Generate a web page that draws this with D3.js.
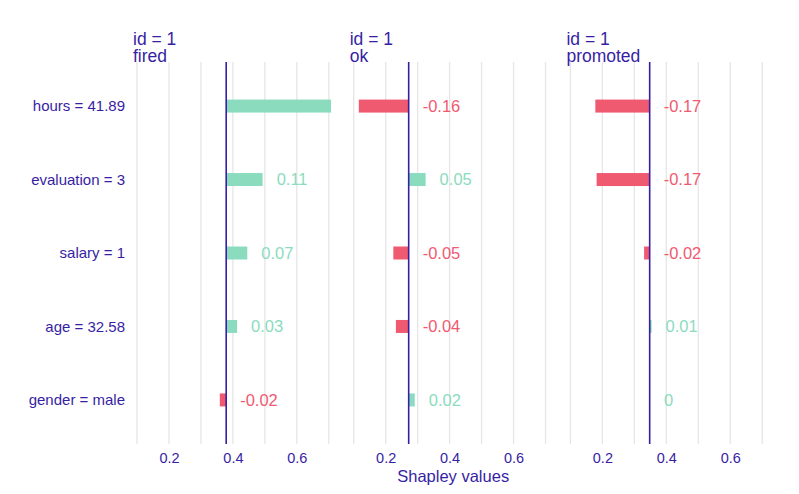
<!DOCTYPE html>
<html>
<head>
<meta charset="utf-8">
<script src="https://cdn.jsdelivr.net/npm/d3@7"></script>
<style>
  body { margin: 0; background: #fff; }
  text { font-family: "Liberation Sans", Arial, sans-serif; }
</style>
</head>
<body>
<div id="container"></div>
<script>
// shapley contributions for one observation, three classes
let features = ["hours = 41.89", "evaluation = 3", "salary = 1", "age = 32.58", "gender = male"];
let classes = ["fired", "ok", "promoted"];
let intercepts = [0.379, 0.272, 0.348];
let firedVals = [0.328, 0.114, 0.066, 0.034, -0.02];
let okVals = [-0.156, 0.053, -0.048, -0.04, 0.019];
let promotedVals = [-0.17, -0.166, -0.0175, 0.006, 0.001];
let valueLabels = [
    ["0.33", "0.11", "0.07", "0.03", "-0.02"],
    ["-0.16", "0.05", "-0.05", "-0.04", "0.02"],
    ["-0.17", "-0.17", "-0.02", "0.01", "0"]
];
let tickValues = [0.2, 0.4, 0.6];
let gridValues = [0.1, 0.2, 0.3, 0.4, 0.5, 0.6, 0.7];

let allVals = [firedVals, okVals, promotedVals];

let svgWidth = 799;
let svgHeight = 494;
let navy = "#371ea3";
let green = "#8bdcbe";
let red = "#f05a71";

let viz = d3.select("#container")
  .append("svg")
    .attr("width", svgWidth)
    .attr("height", svgHeight)
    .style("background-color", "white");

let panelW = 207, panelStep = 216.7, panelLeft = 133;
let panelTop = 62, panelBottom = 444;

let x = d3.scaleLinear().domain([0.0875, 0.735]).range([0, panelW]);
let y = d3.scalePoint().domain(features).range([panelTop, panelBottom]).padding(0.6);

// feature names on the left
viz.selectAll(".feat").data(features).enter().append("text")
    .attr("class", "feat")
    .attr("x", 125)
    .attr("y", d => y(d))
    .attr("dy", "0.35em")
    .attr("text-anchor", "end")
    .attr("font-size", 15)
    .attr("fill", navy)
    .text(d => d);

classes.forEach(function(cls, i){
    let g = viz.append("g").attr("transform", "translate(" + (panelLeft + i * panelStep) + ",0)");

    g.append("clipPath").attr("id", "clip" + i)
      .append("rect").attr("x", 0).attr("y", panelTop).attr("width", panelW).attr("height", panelBottom - panelTop);

    g.selectAll(".grid").data(gridValues).enter().append("line")
        .attr("x1", d => x(d)).attr("x2", d => x(d))
        .attr("y1", panelTop).attr("y2", panelBottom)
        .attr("stroke", "#e6e6e6")
        .attr("stroke-width", 1.3);

    let rows = features.map((f, j) => ({f: f, v: allVals[i][j], lab: valueLabels[i][j]}));
    let base = intercepts[i];

    let body = g.append("g").attr("clip-path", "url(#clip" + i + ")");

    body.selectAll("rect.bar").data(rows).enter().append("rect")
        .attr("class", "bar")
        .attr("x", d => x(Math.min(base, base + d.v)))
        .attr("width", d => Math.abs(x(base + d.v) - x(base)))
        .attr("y", d => y(d.f) - 6.5)
        .attr("height", 13)
        .attr("fill", d => d.v < 0 ? red : green);

    body.selectAll("text.val").data(rows).enter().append("text")
        .attr("class", "val")
        .attr("x", d => x(Math.max(base, base + d.v)) + 14)
        .attr("y", d => y(d.f))
        .attr("dy", "0.35em")
        .attr("font-size", 16.5)
        .attr("fill", d => d.v < 0 ? red : green)
        .text(d => d.lab);

    g.append("line")
        .attr("x1", x(base)).attr("x2", x(base))
        .attr("y1", panelTop).attr("y2", panelBottom)
        .attr("stroke", navy)
        .attr("stroke-width", 1.6);

    let axis = d3.axisBottom(x).tickValues(tickValues).tickFormat(d3.format(".1f")).tickSize(0).tickPadding(0);
    let ax = g.append("g").attr("transform", "translate(0," + (panelBottom + 9) + ")").call(axis);
    ax.select(".domain").remove();
    ax.selectAll("text").attr("fill", navy).attr("font-size", 14.5)
        .attr("font-family", "Liberation Sans, Arial, sans-serif");

    // strip title, two lines
    g.append("text").attr("font-size", 17.5).attr("fill", navy)
        .attr("x", 0).attr("y", 45).text("id = 1");
    g.append("text").attr("font-size", 17.5).attr("fill", navy)
        .attr("x", 0).attr("y", 61.5).text(cls);
});

viz.append("text")
    .attr("x", panelLeft + (2 * panelStep + panelW) / 2)
    .attr("y", 482)
    .attr("text-anchor", "middle")
    .attr("font-size", 16.5)
    .attr("fill", navy)
    .text("Shapley values");
</script>
</body>
</html>
